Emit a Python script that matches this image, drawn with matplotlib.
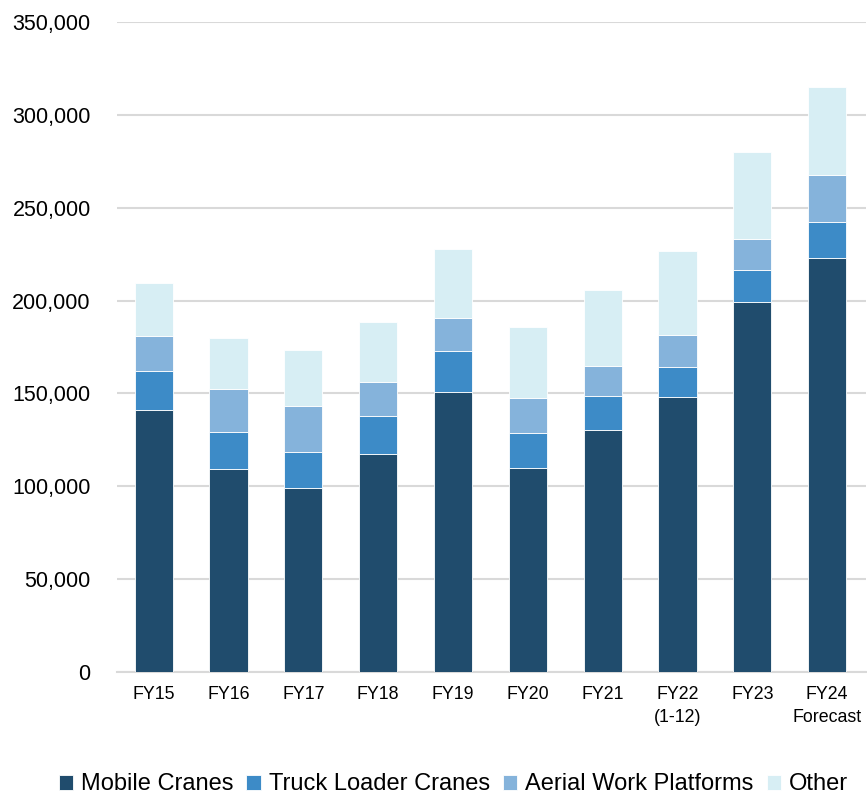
import matplotlib.pyplot as plt
from matplotlib.ticker import FuncFormatter

plt.rcParams['font.family'] = ['Liberation Sans', 'DejaVu Sans']

years = ['FY15', 'FY16', 'FY17', 'FY18', 'FY19', 'FY20', 'FY21', 'FY22\n(1-12)', 'FY23', 'FY24\nForecast']
mobile_cranes = [141200, 109300, 98800, 117600, 150700, 109700, 130300, 148000, 199100, 222700]
truck_loader = [20600, 19900, 19600, 20200, 22000, 19000, 18300, 16200, 17600, 19800]
aerial_work = [19200, 23000, 24600, 18500, 18000, 18800, 16100, 17000, 16300, 25200]
other = [28300, 27400, 30500, 31900, 37300, 38500, 40800, 45300, 47100, 47200]

series = [
    ('Mobile Cranes', mobile_cranes, '#204C6D'),
    ('Truck Loader Cranes', truck_loader, '#3D8BC7'),
    ('Aerial Work Platforms', aerial_work, '#85B3DB'),
    ('Other', other, '#D7EEF4'),
]

fig = plt.figure(figsize=(8.67, 7.99), dpi=100)
ax = fig.add_axes([0.135, 0.159, 0.864, 0.8135])

x = range(len(years))
bottom = [0] * len(years)
for name, vals, col in series:
    ax.bar(x, vals, 0.51, bottom=bottom, color=col, label=name,
           edgecolor='white', linewidth=0.6, zorder=3)
    bottom = [b + v for b, v in zip(bottom, vals)]

ax.set_ylim(0, 350000)
ax.set_xlim(-0.49, 9.52)
ax.set_yticks(range(0, 350001, 50000))
ax.yaxis.set_major_formatter(FuncFormatter(lambda v, p: f'{int(v):,}'))
ax.grid(axis='y', color='#D9D9D9', linewidth=1.5, zorder=0)
for s in ['top', 'right', 'left']:
    ax.spines[s].set_visible(False)
ax.spines['bottom'].set_color('#D9D9D9')
ax.spines['bottom'].set_linewidth(1.5)
ax.tick_params(axis='y', length=0, labelsize=15.5, pad=19)
ax.tick_params(axis='x', length=0, labelsize=12.8, pad=10)
ax.set_xticks(list(x))
ax.set_xticklabels(years, linespacing=1.45)

fig.legend(loc='lower center', bbox_to_anchor=(0.523, -0.022), ncol=4, frameon=False,
           fontsize=17, handlelength=0.6, handleheight=0.6, handletextpad=0.35,
           columnspacing=0.55)

fig.savefig('out.png', dpi=100)
